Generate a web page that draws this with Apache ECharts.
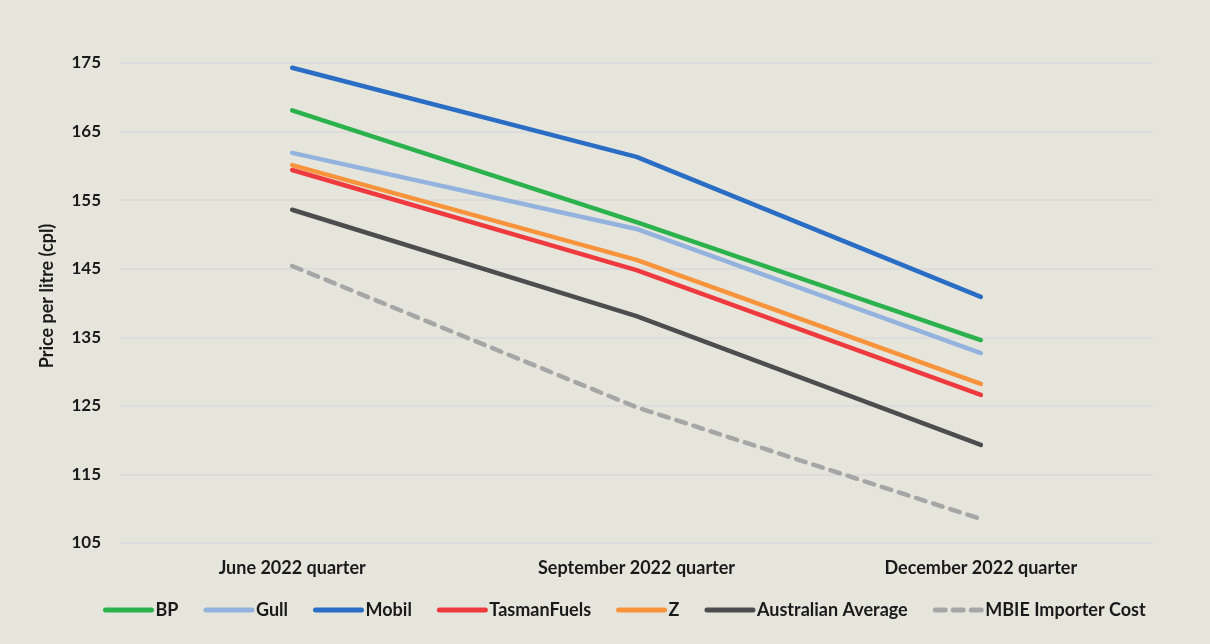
<!DOCTYPE html>
<html>
<head>
<meta charset="utf-8">
<script src="https://cdn.jsdelivr.net/npm/echarts@6/dist/echarts.min.js"></script>
<style>
    html, body { margin: 0; padding: 0; background: #e6e5dc; }
    #main { width: 1210px; height: 644px; }
</style>
</head>
<body>
<div id="main"></div>
<script>
// 各季度油价数据 (cpl)
var quarters = ['June 2022 quarter', 'September 2022 quarter', 'December 2022 quarter'];
var yTicks = [105, 115, 125, 135, 145, 155, 165, 175];

var bp = [168.1, 151.8, 134.6];
var gull = [161.9, 150.8, 132.7];
var mobil = [174.3, 161.3, 140.9];
var tasmanFuels = [159.4, 144.8, 126.6];
var z = [160.1, 146.3, 128.2];
var ausAverage = [153.6, 138.1, 119.3];
var mbieCost = [145.4, 124.8, 108.5];

var fontFamily = 'Lato, "Open Sans", sans-serif';

function lineSeries(name, data, color, dashed) {
    return {
        name: name,
        type: 'line',
        data: data,
        symbol: 'none',
        smooth: false,
        lineStyle: {
            color: color,
            width: 4.5,
            type: dashed ? [10, 8] : 'solid',
            cap: 'round'
        },
        itemStyle: {
            color: color
        }
    };
}

var chart = echarts.init(document.getElementById('main'));
var option = {
    backgroundColor: '#e6e5dc',
    animation: false,
    grid: {
        left: 120,
        right: 57,
        top: 63,
        bottom: 101
    },
    legend: {
        bottom: 20,
        left: 98,
        itemWidth: 46,
        itemHeight: 14,
        itemGap: 25,
        itemStyle: {
            opacity: 0
        },
        lineStyle: {
            width: 5,
            cap: 'round'
        },
        textStyle: {
            color: '#1a1a1a',
            fontSize: 18,
            fontWeight: 'bold',
            fontFamily: fontFamily,
            padding: [0, 0, 0, -1]
        },
        data: ['BP', 'Gull', 'Mobil', 'TasmanFuels', 'Z', 'Australian Average', 'MBIE Importer Cost']
    },
    xAxis: {
        type: 'category',
        data: quarters,
        boundaryGap: true,
        axisLine: { show: false },
        axisTick: { show: false },
        axisLabel: {
            color: '#1a1a1a',
            fontSize: 18,
            fontWeight: 'bold',
            fontFamily: fontFamily,
            margin: 16
        }
    },
    yAxis: {
        type: 'value',
        min: yTicks[0],
        max: yTicks[yTicks.length - 1],
        interval: 10,
        name: 'Price per litre (cpl)',
        nameLocation: 'middle',
        nameGap: 64,
        nameTextStyle: {
            color: '#1a1a1a',
            fontSize: 18,
            fontWeight: 'bold',
            fontFamily: fontFamily,
            padding: [0, 0, 0, 14]
        },
        axisLine: { show: false },
        axisTick: { show: false },
        axisLabel: {
            color: '#1a1a1a',
            fontSize: 17,
            fontWeight: 'bold',
            fontFamily: fontFamily,
            margin: 19
        },
        splitLine: {
            lineStyle: {
                color: '#d9d9db',
                width: 1.5
            }
        }
    },
    series: [
        lineSeries('BP', bp, '#2bb24c', false),
        lineSeries('Gull', gull, '#93b3de', false),
        lineSeries('Mobil', mobil, '#2a6dc4', false),
        lineSeries('TasmanFuels', tasmanFuels, '#ee3a3e', false),
        lineSeries('Z', z, '#f7943b', false),
        lineSeries('Australian Average', ausAverage, '#4d4d4f', false),
        lineSeries('MBIE Importer Cost', mbieCost, '#a6a6a6', true)
    ]
};
chart.setOption(option);
</script>
</body>
</html>
